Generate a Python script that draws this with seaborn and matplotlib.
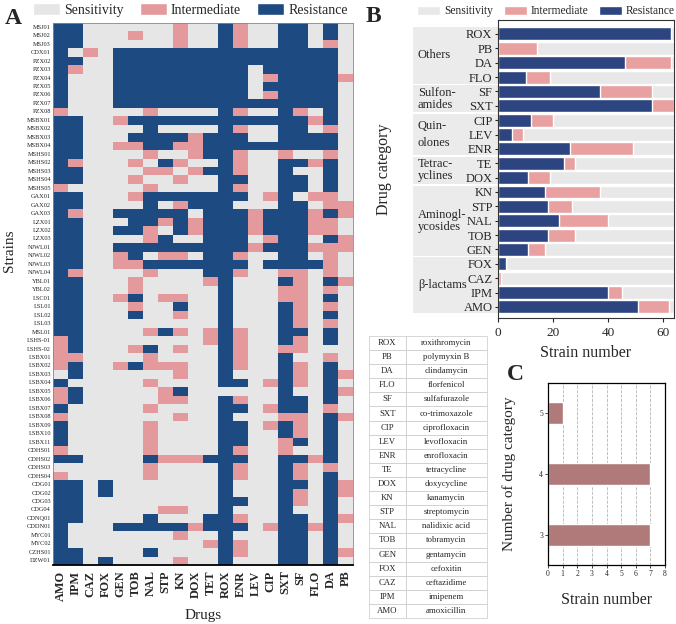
import numpy as np
import pandas as pd
import seaborn as sns
import matplotlib
matplotlib.use('Agg')
from matplotlib import pyplot as plt
from matplotlib.colors import ListedColormap
from matplotlib.patches import Patch, Rectangle
from matplotlib.transforms import blended_transform_factory

# ---- panel A: susceptibility profile of each strain (S / I / R) ----
strains = ['MSJ01', 'MSJ02', 'MSJ03', 'CDX01', 'PZX02', 'PZX03', 'PZX04', 'PZX05',
           'PZX06', 'PZX07', 'PZX08', 'MSBX01', 'MSBX02', 'MSBX03', 'MSBX04', 'MSHS01',
           'MSHS02', 'MSHS03', 'MSHS04', 'MSHS05', 'GAX01', 'GAX02', 'GAX03', 'LZX01',
           'LZX02', 'LZX03', 'NJWL01', 'NJWL02', 'NJWL03', 'NJWL04', 'YBL01', 'YBL02',
           'LSC01', 'LSL01', 'LSL02', 'LSL03', 'MSL01', 'LSHS-01', 'LSHS-02', 'LSBX01',
           'LSBX02', 'LSBX03', 'LSBX04', 'LSBX05', 'LSBX06', 'LSBX07', 'LSBX08', 'LSBX09',
           'LSBX10', 'LSBX11', 'CDHS01', 'CDHS02', 'CDHS03', 'CDHS04', 'CDG01', 'CDG02',
           'CDG03', 'CDG04', 'CDNQ01', 'CDDN01', 'MYC01', 'MYC02', 'CZHS01', 'DZW01']
drugs = ['AMO', 'IPM', 'CAZ', 'FOX', 'GEN', 'TOB', 'NAL', 'STP', 'KN', 'DOX',
         'TET', 'ROX', 'ENR', 'LEV', 'CIP', 'SXT', 'SF', 'FLO', 'DA', 'PB']
profiles = [
    'RRSSS SSSIS SRISS RRSRS', 'RRSSS ISSIS SRISS RRSRS', 'RRSSS SSSIS SRISS RRSIS',
    'RSISR RRRRR RRRRR RRRRS', 'RRSSR RRRRR RRRRR RRRRS', 'RISSR RRRRR RRRSR RRRRS',
    'RSSSR RRRRR RRRSI RRRRI', 'RSSSR RRRRR RRRSR RRRRS', 'RSSSR RRRRR RRRSI RRRRS',
    'RSSSR RRRRR RRRRR RRRRS', 'ISSSS SISSS SRISS RISRS', 'RRSSI RRRRR RRRRR RRIRS',
    'RRSSS SRSSS SRISS RRSIS', 'RRSSS RRRRI RRRSS RRRRS', 'RRSSI IRRII RRRRR RRRRS',
    'RRSSS SISSI RRISS ISSIS', 'RISSS ISRIS SRISS RRIRS', 'RRSSS SIISI RRISS RSSRS',
    'RRSSS ISSIS SRRSS RRSRS', 'ISSSS SISSS SRISS RRSRS', 'RRSSS IRRRR RRRSI RSIIS',
    'RRSSS SRSIR RRSSS RRSII', 'RISSR RRRRS RRRIR RRIRI', 'RRSSS RRIRI RRRIR RRIIS',
    'RRSSR RISRI RRRIR RRIIS', 'RRSSS SIRSS RRRSI RRSRI', 'RRSSR RRRRR RRRIR RRIII',
    'RRSSI RSIIS RRISS RRSIS', 'RRSSI IRRRR RRRSR RRRIS', 'RISSS SISSS RRISS IISIS',
    'RRSSS ISSSS IRSSS RISRI', 'RRSSS ISSSS SRSSS IISIS', 'RRSSI RSIIS SRSSS IISRS',
    'RRSSS ISSRS SRSSS RISIS', 'RRSSS RSSIS SRSSS RISRS', 'RRSSS SSSSS SRSSS RISIS',
    'RRSSS SIRIS IRISS RRSRS', 'IRSSS SSSSS IRISS RISRS', 'IRSSS IRSIS SRISS IISSS',
    'IISSS SISSS SRISS RSSIS', 'IRSSI RIIIS SRISS RISRS', 'SRSSS SSSIS SRSSS RISRI',
    'RSSSS SISSS SRRSI RISRS', 'IRSSS SSIRS SSSSS RSSRI', 'IRSSS SSIIS SRISS RRSRS',
    'RSSSS SISSS SRRSI RRSIS', 'ISSSS SSSIS SRSSS IISRI', 'RSSSS SISSS SRRSI RISRS',
    'RSSSS SISSS SRRSS RISRS', 'RSSSS SISSS SRRSS IRSRS', 'ISSSS SISSS SRISS ISSRS',
    'RRSSS SRIII RRRSS RRIRS', 'SSSSS SISSS SRISS RISIS', 'ISSSS SISSS SRISS RISRS',
    'RRSRS SSSSS SRSSS RRSRI', 'RRSRS SSSSS SRSSS RISRI', 'RRSSS SSSSS SRRSS RISRS',
    'RRSSS SSIIS SRSSS RSSRS', 'RRSSS SRSSS RRISS RRSRI', 'RSSSR RRRRI RRRSI RRIRS',
    'RSSSS SSSIS SRSSS RRSRS', 'RSSSS SSSSS IRISS RRSRS', 'RRSSS SRSSS SRISS RRSRI',
    'RRSRS SSSIS SRSSS RRSRS']

# ---- panel B: strain counts per drug ----
b_drugs = ['ROX', 'PB', 'DA', 'FLO', 'SF', 'SXT', 'CIP', 'LEV', 'ENR', 'TE',
           'DOX', 'KN', 'STP', 'NAL', 'TOB', 'GEN', 'FOX', 'CAZ', 'IPM', 'AMO']
b_resist = [63, 0, 46, 10, 37, 56, 12, 5, 26, 24, 11, 17, 18, 22, 18, 11, 3, 0, 40, 51]
b_inter = [0, 14, 17, 9, 19, 8, 8, 4, 23, 4, 8, 20, 9, 18, 10, 6, 0, 1, 5, 11]
n_total = 64
group_names = ['Others', 'Sulfon-\namides', 'Quin-\nolones', 'Tetrac-\nyclines',
               'Aminogl-\nycosides', 'β-lactams']
group_sizes = [4, 2, 3, 2, 5, 4]

# ---- abbreviation table ----
abbr = ['ROX', 'PB', 'DA', 'FLO', 'SF', 'SXT', 'CIP', 'LEV', 'ENR', 'TE',
        'DOX', 'KN', 'STP', 'NAL', 'TOB', 'GEN', 'FOX', 'CAZ', 'IPM', 'AMO']
full_names = ['roxithromycin', 'polymyxin B', 'clindamycin', 'florfenicol', 'sulfafurazole',
              'co-trimoxazole', 'ciprofloxacin', 'levofloxacin', 'enrofloxacin', 'tetracycline',
              'doxycycline', 'kanamycin', 'streptomycin', 'nalidixic acid', 'tobramycin',
              'gentamycin', 'cefoxitin', 'ceftazidime', 'imipenem', 'amoxicillin']

# ---- panel C: multidrug resistance ----
c_category = [5, 4, 3]
c_strains = [1, 7, 7]

sns.set_style('white')
plt.rcParams['font.family'] = ['Liberation Serif', 'DejaVu Serif']

grey, pink, navy = '#e6e6e6', '#e49a9c', '#1e4a82'
b_grey, b_pink, b_navy = '#e8e8e8', '#e9a0a0', '#2c4480'

W, H = 676, 624
fig = plt.figure(figsize=(W / 100, H / 100), dpi=100)

def box(l, t, r, b):
    return [l / W, 1 - b / H, (r - l) / W, (b - t) / H]

# ---------------- A ----------------
codes = {'S': 0, 'I': 1, 'R': 2}
mat = np.array([[codes[c] for c in p.replace(' ', '')] for p in profiles])
df = pd.DataFrame(mat, index=strains, columns=drugs)

axA = fig.add_axes(box(53, 23, 353, 565))
sns.heatmap(df, cmap=ListedColormap([grey, pink, navy]), vmin=-0.5, vmax=2.5,
            cbar=False, ax=axA, xticklabels=True, yticklabels=True, linewidths=0)
axA.set_yticklabels(strains, fontsize=4.6, rotation=0)
axA.set_xticklabels(drugs, fontsize=8.8, rotation=90, fontweight='bold')
axA.tick_params(axis='y', length=0, pad=1.5)
axA.tick_params(axis='x', which='major', length=0, pad=4)
axA.set_xticks(np.arange(0, len(drugs) + 1), minor=True)
axA.tick_params(axis='x', which='minor', length=4, width=1, color='black', direction='out')
for s in ['top', 'right', 'left']:
    axA.spines[s].set_visible(True)
    axA.spines[s].set_color('#888888')
    axA.spines[s].set_linewidth(0.6)
axA.spines['bottom'].set_visible(True)
axA.spines['bottom'].set_color('black')
axA.spines['bottom'].set_linewidth(1.3)
axA.set_xlabel('Drugs', fontsize=11, labelpad=6)
axA.set_ylabel('Strains', fontsize=11)
axA.yaxis.set_label_coords(-0.125, 0.58)

handles = [Patch(facecolor=grey, label='Sensitivity'),
           Patch(facecolor=pink, label='Intermediate'),
           Patch(facecolor=navy, label='Resistance')]
fig.legend(handles=handles, loc='upper left', bbox_to_anchor=(30 / W, 1.0), ncol=3,
           frameon=False, fontsize=10, handlelength=1.95, handleheight=0.95,
           handletextpad=0.3, columnspacing=1.15, borderpad=0.2, borderaxespad=0)

# ---------------- B ----------------
dfB = pd.DataFrame({'drug': b_drugs, 'R': b_resist, 'I': b_inter})
dfB['RI'] = dfB['R'] + dfB['I']
dfB['total'] = n_total

axB = fig.add_axes(box(498, 20, 674, 318))
for col, c in [('total', b_grey), ('RI', b_pink), ('R', b_navy)]:
    sns.barplot(data=dfB, x=col, y='drug', order=b_drugs, color=c, saturation=1,
                width=0.9, errorbar=None, ax=axB)
axB.set_xlim(0, 64)
axB.set_ylim(19.77, -0.97)
axB.set_xticks([0, 20, 40, 60])
axB.tick_params(axis='x', labelsize=9.5, length=3, width=0.8, direction='out', bottom=True)
axB.tick_params(axis='y', labelsize=9, length=2, width=0.8, direction='out', left=True, pad=2)
for s in axB.spines.values():
    s.set_color('#333333')
    s.set_linewidth(0.8)
axB.set_xlabel('Strain number', fontsize=11.5, labelpad=4)
axB.set_ylabel('Drug category', fontsize=11.5)
axB.yaxis.set_label_coords(-0.60, 0.5)

trans = blended_transform_factory(axB.transAxes, axB.transData)
start = 0
for name, n in zip(group_names, group_sizes):
    axB.add_patch(Rectangle((-0.485, start - 0.5 + 0.05), 0.485, n - 0.1,
                            transform=trans, facecolor='#ebebeb', edgecolor='none',
                            clip_on=False, zorder=0))
    ls = 1.45 if name.startswith('Quin') else 1.0
    axB.text(-0.455, start + (n - 1) / 2, name, transform=trans, ha='left', va='center',
             fontsize=9, linespacing=ls)
    start += n

handles_b = [Patch(facecolor=b_grey, label='Sensitivity'),
             Patch(facecolor=b_pink, label='Intermediate'),
             Patch(facecolor=b_navy, label='Resistance')]
fig.legend(handles=handles_b, loc='upper center', bbox_to_anchor=(546 / W, 1.008), ncol=3,
           frameon=False, fontsize=8.3, handlelength=2.0, handleheight=0.9,
           handletextpad=0.35, columnspacing=0.9)

# ---------------- table ----------------
axT = fig.add_axes(box(369, 336, 487, 618))
axT.axis('off')
tbl = axT.table(cellText=[list(r) for r in zip(abbr, full_names)], cellLoc='center',
                bbox=[0, 0, 1, 1], colWidths=[0.31, 0.69])
tbl.auto_set_font_size(False)
tbl.set_fontsize(6.3)
for cell in tbl.get_celld().values():
    cell.set_edgecolor('#c8c8c8')
    cell.set_linewidth(0.5)

# ---------------- C ----------------
dfC = pd.DataFrame({'n_cat': c_category, 'strains': c_strains})
axC = fig.add_axes(box(548, 383, 665, 565))
sns.barplot(data=dfC, x='strains', y='n_cat', order=c_category, orient='h',
            color='#b07a7a', saturation=1, width=0.36, errorbar=None, ax=axC)
axC.set_xlim(0, 8)
axC.set_ylim(2.5, -0.5)
axC.set_xticks(range(0, 9))
axC.grid(axis='x', linestyle='--', color='#b5b5b5', linewidth=0.6)
axC.set_axisbelow(True)
axC.tick_params(axis='both', labelsize=5.5, length=2, width=0.6, direction='out',
                left=True, bottom=True, pad=1.5)
for s in axC.spines.values():
    s.set_color('black')
    s.set_linewidth(0.9)
axC.set_xlabel('Strain number', fontsize=11.5, labelpad=10)
axC.set_ylabel('Number of drug category', fontsize=11)
axC.yaxis.set_label_coords(-0.27, 0.5)

# panel letters
fig.text(13 / W, 1 - 19 / H, 'A', fontsize=17, fontweight='bold', ha='center', va='center')
fig.text(373 / W, 1 - 16 / H, 'B', fontsize=17, fontweight='bold', ha='center', va='center')
fig.text(515 / W, 1 - 374 / H, 'C', fontsize=17, fontweight='bold', ha='center', va='center')

fig.savefig('out.png', dpi=100)
